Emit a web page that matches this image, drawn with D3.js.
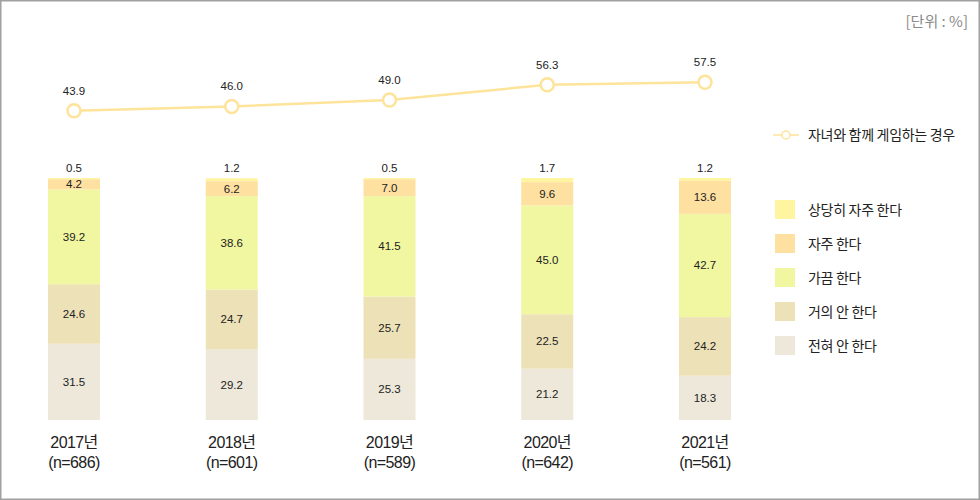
<html>
<head>
<meta charset="utf-8">
<title>chart</title>
<script src="https://d3js.org/d3.v7.min.js"></script>
<style>
  body { margin: 0; background: #fff; }
  text { font-family: "Noto Sans CJK KR", "Noto Sans", sans-serif; fill: #222; }
  .num { font-family: "Liberation Sans", Arial, sans-serif; font-size: 11.5px; }
  .yr { font-family: "Liberation Sans", "Noto Sans CJK KR", sans-serif; font-size: 16px; letter-spacing: -0.6px; }
</style>
</head>
<body>
<div id="chart"></div>
<script>
// 데이터
const years = ["2017", "2018", "2019", "2020", "2021"];
const sampleN = ["686", "601", "589", "642", "561"];
const keys = ["전혀 안 한다", "거의 안 한다", "가끔 한다", "자주 한다", "상당히 자주 한다"];
const never = [31.5, 29.2, 25.3, 21.2, 18.3];
const rarely = [24.6, 24.7, 25.7, 22.5, 24.2];
const sometimes = [39.2, 38.6, 41.5, 45.0, 42.7];
const often = [4.2, 6.2, 7.0, 9.6, 13.6];
const veryOften = [0.5, 1.2, 0.5, 1.7, 1.2];
const withChild = [43.9, 46.0, 49.0, 56.3, 57.5];
const lineName = "자녀와 함께 게임하는 경우";

const series = [never, rarely, sometimes, often, veryOften];
const data = years.map((y, i) => {
    const row = { year: y };
    keys.forEach((k, j) => row[k] = series[j][i]);
    return row;
});

const W = 980, H = 500;
const svg = d3.select("#chart").append("svg")
    .attr("width", W).attr("height", H);

// 테두리
svg.append("rect")
    .attr("x", 0.75).attr("y", 0.75)
    .attr("width", W - 1.5).attr("height", H - 1.5)
    .attr("fill", "none").attr("stroke", "#a0a0a0").attr("stroke-width", 1.5);

const x = d3.scalePoint().domain(years).range([74, 705]);
const barW = 52;
const y = d3.scaleLinear().domain([0, 100]).range([420, 178]);
const yLine = d3.scaleLinear().domain([0, 100]).range([203, -7]);

const color = d3.scaleOrdinal()
    .domain(keys)
    .range(["#ede8da", "#ede1b8", "#f1f7a1", "#fee0a0", "#fff5a0"]);

const stacked = d3.stack().keys(keys)(data);

// 막대
const layer = svg.selectAll(".layer")
    .data(stacked)
    .enter().append("g")
    .attr("class", "layer")
    .attr("fill", d => color(d.key));

layer.selectAll("rect")
    .data(d => d)
    .enter().append("rect")
    .attr("x", d => x(d.data.year) - barW / 2)
    .attr("y", d => y(d[1]))
    .attr("width", barW)
    .attr("height", d => y(d[0]) - y(d[1]));

// 막대 값
stacked.forEach((s, j) => {
    const top = j === stacked.length - 1;
    svg.append("g").selectAll("text")
        .data(s)
        .enter().append("text")
        .attr("class", "num")
        .attr("text-anchor", "middle")
        .attr("x", d => x(d.data.year))
        .attr("y", d => top ? y(d[1]) - 6 : (y(d[0]) + y(d[1])) / 2 + 4)
        .text(d => d.data[s.key].toFixed(1));
});

// 꺾은선
const line = d3.line()
    .x((d, i) => x(years[i]))
    .y(d => yLine(d));

svg.append("path")
    .datum(withChild)
    .attr("fill", "none")
    .attr("stroke", "#fde49a")
    .attr("stroke-width", 2.5)
    .attr("d", line);

svg.append("g").selectAll("circle")
    .data(withChild)
    .enter().append("circle")
    .attr("cx", (d, i) => x(years[i]))
    .attr("cy", d => yLine(d))
    .attr("r", 6.5)
    .attr("fill", "#fff")
    .attr("stroke", "#fde49a")
    .attr("stroke-width", 2.5);

svg.append("g").selectAll("text")
    .data(withChild)
    .enter().append("text")
    .attr("class", "num")
    .attr("text-anchor", "middle")
    .attr("x", (d, i) => x(years[i]))
    .attr("y", d => yLine(d) - 16)
    .text(d => d.toFixed(1));

// x축 라벨 (두 줄)
const xg = svg.append("g");
xg.selectAll("text.y1")
    .data(years)
    .enter().append("text")
    .attr("class", "yr y1")
    .attr("text-anchor", "middle")
    .attr("x", d => x(d))
    .attr("y", 448)
    .text(d => d + "년");
xg.selectAll("text.y2")
    .data(years)
    .enter().append("text")
    .attr("class", "yr y2")
    .attr("text-anchor", "middle")
    .attr("x", d => x(d))
    .attr("y", 468)
    .text((d, i) => "(n=" + sampleN[i] + ")");

// 단위
svg.append("text")
    .attr("x", 968).attr("y", 27)
    .attr("text-anchor", "end")
    .style("font-size", "15px")
    .style("fill", "#8a8a8a")
    .text("[단위 : %]");

// 범례 - 선
const lg = svg.append("g");
lg.append("line")
    .attr("x1", 773).attr("x2", 799).attr("y1", 135).attr("y2", 135)
    .attr("stroke", "#fde49a").attr("stroke-width", 1.5);
lg.append("circle")
    .attr("cx", 786).attr("cy", 135).attr("r", 4)
    .attr("fill", "#fff").attr("stroke", "#fde49a").attr("stroke-width", 1.5);
lg.append("text")
    .attr("x", 808).attr("y", 140)
    .style("font-size", "14px")
    .style("letter-spacing", "-0.3px")
    .text(lineName);

// 범례 - 막대
const legendKeys = keys.slice().reverse();
const li = svg.append("g").selectAll("g")
    .data(legendKeys)
    .enter().append("g")
    .attr("transform", (d, i) => `translate(775,${200 + i * 34})`);
li.append("rect")
    .attr("width", 20).attr("height", 19)
    .attr("fill", d => color(d));
li.append("text")
    .attr("x", 33).attr("y", 15)
    .style("font-size", "14px")
    .style("letter-spacing", "-0.3px")
    .text(d => d);
</script>
</body>
</html>
